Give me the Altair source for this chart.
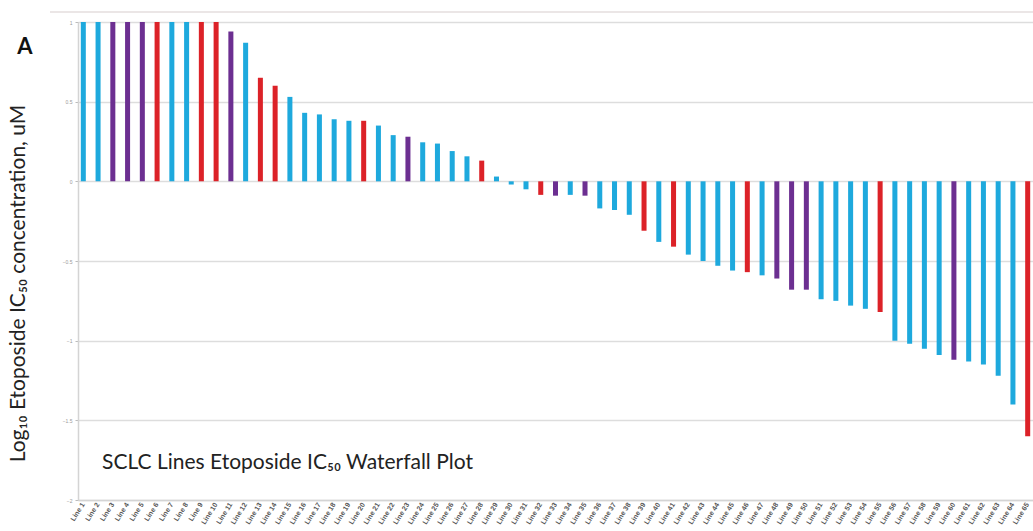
import altair as alt
import pandas as pd

# ---- data ----
cell_lines = [f"Line {i}" for i in range(1, 66)]

log_ic50 = [
    1.0, 1.0, 1.0, 1.0, 1.0, 1.0, 1.0, 1.0, 1.0, 1.0,
    0.94, 0.87, 0.65, 0.60, 0.53, 0.43, 0.42, 0.39, 0.38, 0.38,
    0.35, 0.29, 0.28, 0.245, 0.237, 0.19, 0.157, 0.13, 0.03, -0.02,
    -0.05, -0.085, -0.09, -0.085, -0.09, -0.17, -0.18, -0.21, -0.31, -0.38,
    -0.41, -0.46, -0.50, -0.53, -0.56, -0.57, -0.59, -0.61, -0.68, -0.68,
    -0.74, -0.75, -0.78, -0.80, -0.82, -1.00, -1.02, -1.05, -1.09, -1.12,
    -1.13, -1.15, -1.22, -1.40, -1.60,
]

groups = [
    "C", "C", "P", "P", "P", "R", "C", "C", "R", "R",
    "P", "C", "R", "R", "C", "C", "C", "C", "C", "R",
    "C", "C", "P", "C", "C", "C", "C", "R", "C", "C",
    "C", "R", "P", "C", "P", "C", "C", "C", "R", "C",
    "R", "C", "C", "C", "C", "R", "C", "P", "P", "P",
    "C", "C", "C", "C", "R", "C", "C", "C", "C", "P",
    "C", "C", "C", "C", "R",
]

group_names = ["C", "P", "R"]
group_colors = ["#1ea9dd", "#6c2f91", "#dc2228"]

y_ticks = [-2, -1.5, -1, -0.5, 0, 0.5, 1]

y_title = "Log₁₀ Etoposide IC₅₀ concentration, uM"
inner_title = ["SCLC Lines Etoposide IC₅₀ Waterfall Plot"]
panel_label = ["A"]

df = pd.DataFrame({"line": cell_lines, "value": log_ic50, "group": groups})

W, H = 955, 478
FONT = "Lato, 'DejaVu Sans', sans-serif"

bars = alt.Chart(df).mark_bar().encode(
    x=alt.X(
        "line:N",
        sort=None,
        scale=alt.Scale(paddingInner=0.66, paddingOuter=0.19),
        axis=alt.Axis(
            title=None,
            labelAngle=-58,
            labelAlign="right",
            labelBaseline="middle",
            labelFontSize=7,
            labelFontWeight="bold",
            labelColor="#555555",
            labelPadding=3,
            ticks=False,
            domainColor="#d4d4d4",
            domainWidth=1.5,
            labelOverlap=False,
        ),
    ),
    y=alt.Y(
        "value:Q",
        scale=alt.Scale(domain=[-2, 1], nice=False, zero=True),
        axis=alt.Axis(
            values=y_ticks,
            format="~g",
            title=y_title,
            titleFont=FONT,
            titleFontSize=21,
            titleFontWeight="normal",
            titleColor="#222222",
            titleX=-60,
            titleY=261,
            titleAngle=270,
            titleAlign="center",
            titleBaseline="middle",
            labelFontSize=5,
            labelColor="#999999",
            labelPadding=3,
            tickSize=3,
            tickColor="#bbbbbb",
            domainColor="#d4d4d4",
            domainWidth=1.5,
            grid=True,
            gridColor="#dddddd",
            gridWidth=1.5,
        ),
    ),
    color=alt.Color(
        "group:N",
        scale=alt.Scale(domain=group_names, range=group_colors),
        legend=None,
    ),
)

title_text = alt.Chart(pd.DataFrame({"t": inner_title})).mark_text(
    align="left", baseline="middle", font=FONT, fontSize=21, color="#222222"
).encode(text="t:N", x=alt.value(24), y=alt.value(441))

label_text = alt.Chart(pd.DataFrame({"t": panel_label})).mark_text(
    align="center", baseline="middle", font=FONT, fontSize=22, fontWeight="bold", color="#111111"
).encode(text="t:N", x=alt.value(-53), y=alt.value(25))

frame_top = alt.Chart(pd.DataFrame({"t": [0]})).mark_rule(
    color="#e4dede", strokeWidth=1.5
).encode(x=alt.value(-28), x2=alt.value(W), y=alt.value(-10))

chart = alt.layer(frame_top, bars, title_text, label_text).properties(
    width=W,
    height=H,
    autosize=alt.AutoSizeParams(type="none"),
    padding={"left": 78, "top": 22, "right": 0, "bottom": 31},
).configure_view(stroke=None).configure(background="white")

chart.save("out.html", embed_options={"renderer": "svg", "actions": False})
